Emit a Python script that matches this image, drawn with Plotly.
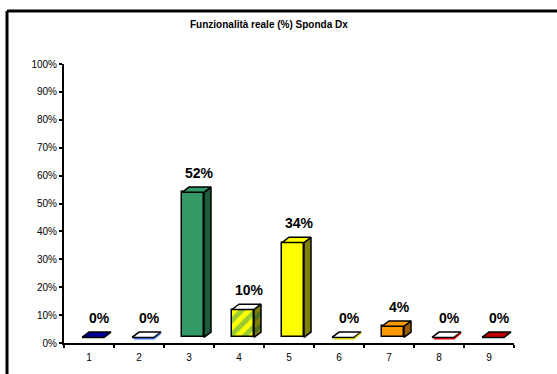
import plotly.graph_objects as go

categories = [1, 2, 3, 4, 5, 6, 7, 8, 9]
values = [0, 0, 52, 10, 34, 0, 4, 0, 0]
labels = ["0%", "0%", "52%", "10%", "34%", "0%", "4%", "0%", "0%"]
front_colors = ["#000099", "#FFFFFF", "#339966", "#FFFF00", "#FFFF00", "#FFFFFF", "#FF9900", "#FFFFFF", "#C00000"]
top_colors = ["#000099", "#FFFFFF", "#339966", "#FFFFFF", "#FFFF00", "#FFFFFF", "#FF9900", "#FFFFFF", "#C00000"]
side_colors = ["#00004D", "#3366CC", "#1E5C3D", "#808000", "#808000", "#CCCC00", "#995C00", "#CC0000", "#660000"]
y_ticks = [0, 10, 20, 30, 40, 50, 60, 70, 80, 90, 100]
y_ticktext = ["0%", "10%", "20%", "30%", "40%", "50%", "60%", "70%", "80%", "90%", "100%"]

W, H = 557, 374
ML, MR, MT, MB = 64, 43, 64, 31
PW, PH = W - ML - MR, H - MT - MB

BASE = 2.0     # 3D floor lift (in %)
OFF = 0.08     # front face centre offset
BW = 0.44      # front face width
DX = 0.14      # depth in x units
DY = 1.9       # depth in y units

fig = go.Figure()

for i, (c, v) in enumerate(zip(categories, values)):
    x0 = c + OFF - BW / 2
    x1 = c + OFF + BW / 2
    top = BASE + v
    if v > 0:
        # side face
        fig.add_trace(go.Scatter(
            x=[x1, x1, x1 + DX, x1 + DX, x1], y=[BASE, top, top + DY, BASE + DY, BASE],
            mode="lines", fill="toself", fillcolor=side_colors[i],
            fillpattern=dict(shape="/", fgcolor="#1E5C3D", bgcolor="#808000", size=9, solidity=0.45) if c == 4 else None,
            line=dict(color="black", width=1.5), hoverinfo="skip", showlegend=False))
        # front face
        fig.add_trace(go.Bar(
            x=[c + OFF], y=[v], base=[BASE], width=[BW],
            marker=dict(color=front_colors[i], line=dict(color="black", width=1.5),
                        pattern=dict(shape="/", fgcolor="#339966", bgcolor="#FFFF00", size=10, solidity=0.5) if c == 4 else None),
            hoverinfo="skip", showlegend=False))
    # top face
    fig.add_trace(go.Scatter(
        x=[x0, x1, x1 + DX, x0 + DX, x0], y=[top, top, top + DY, top + DY, top],
        mode="lines", fill="toself", fillcolor=top_colors[i],
        line=dict(color="black", width=1.5), hoverinfo="skip", showlegend=False))
    if v == 0 and top_colors[i] == "#FFFFFF":
        # coloured under-edge of empty patterned bars
        fig.add_trace(go.Scatter(
            x=[x0 + 0.04, x1, x1 + DX], y=[top - 0.5, top - 0.5, top + DY - 0.3],
            mode="lines", line=dict(color=side_colors[i], width=1.5),
            hoverinfo="skip", showlegend=False))
    fig.add_annotation(
        x=c + 0.21, y=top + DY, xref="x", yref="y", text=labels[i], showarrow=False,
        yanchor="bottom", yshift=4,
        font=dict(family="Liberation Sans, Arial", size=14, color="black", weight="bold"))

fig.update_layout(
    width=W, height=H, margin=dict(l=ML, r=MR, t=MT, b=MB),
    paper_bgcolor="white", plot_bgcolor="white", bargap=0,
    font=dict(family="Liberation Sans, Arial", size=10, color="black"),
    xaxis=dict(range=[0.5, 9.5], tickvals=categories, ticktext=[str(c) for c in categories],
               ticks="", showgrid=False, zeroline=False, showline=True, linecolor="black", linewidth=2,
               tickfont=dict(size=10), ticklabelstandoff=4,
               minor=dict(tickvals=[k + 0.5 for k in range(0, 10)], ticks="outside", ticklen=3,
                          tickwidth=2, tickcolor="black", showgrid=False),
               fixedrange=True),
    yaxis=dict(range=[0, 100], tickvals=y_ticks, ticktext=y_ticktext, ticks="outside", ticklen=3,
               tickwidth=2, tickcolor="black", showgrid=False, zeroline=False, showline=True,
               linecolor="black", linewidth=2, tickfont=dict(size=10), fixedrange=True),
)

def px_x(p):
    return (p - ML) / PW

def px_y(p):
    return (H - MB - p) / PH

# outer chart frame (extends past right and bottom edges)
fig.add_shape(type="line", xref="paper", yref="paper", x0=px_x(7), x1=px_x(600), y0=px_y(11), y1=px_y(11),
              line=dict(color="black", width=3))
fig.add_shape(type="line", xref="paper", yref="paper", x0=px_x(7), x1=px_x(7), y0=px_y(11), y1=px_y(400),
              line=dict(color="black", width=3))

fig.add_annotation(x=px_x(269), y=px_y(25), xref="paper", yref="paper", showarrow=False,
                   xanchor="center", yanchor="middle",
                   text="Funzionalità reale (%) Sponda Dx",
                   font=dict(family="Liberation Sans, Arial", size=10, color="black", weight="bold"))

fig.write_html("out.html")
